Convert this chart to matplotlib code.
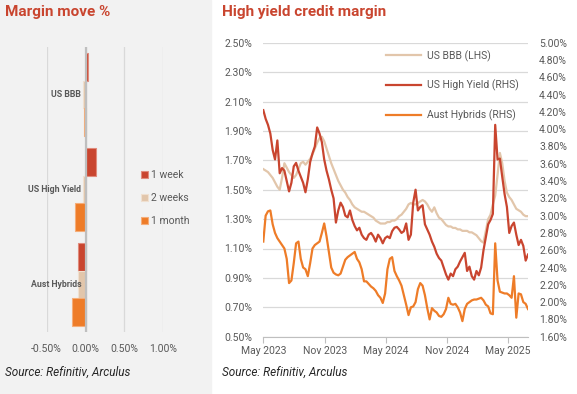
import numpy as np
import pandas as pd
import matplotlib
matplotlib.use('Agg')
from matplotlib import pyplot as plt
import matplotlib.dates as mdates
from matplotlib.ticker import FuncFormatter
from matplotlib.patches import Patch, Rectangle

plt.rcParams['font.family'] = ['Roboto', 'DejaVu Sans']

# --- left panel: margin move (%)
categories = ['US BBB', 'US High Yield', 'Aust Hybrids']
periods = ['1 week', '2 weeks', '1 month']
move_1w = [0.03, 0.14, -0.095]
move_2w = [-0.03, -0.03, -0.095]
move_1m = [-0.015, -0.13, -0.18]

# --- right panel: weekly margins from May 2023
week_start = '2023-05-01'
us_bbb = [1.64, 1.63, 1.62, 1.60, 1.58, 1.55, 1.52, 1.50, 1.58, 1.68,
          1.65, 1.62, 1.60, 1.58, 1.60, 1.64, 1.68, 1.69, 1.67, 1.69,
          1.71, 1.74, 1.78, 1.82, 1.85, 1.86, 1.83, 1.78, 1.73, 1.68,
          1.64, 1.60, 1.56, 1.53, 1.50, 1.48, 1.45, 1.43, 1.40, 1.38,
          1.37, 1.36, 1.35, 1.35, 1.34, 1.33, 1.32, 1.31, 1.29, 1.28,
          1.27, 1.27, 1.27, 1.28, 1.28, 1.29, 1.29, 1.30, 1.32, 1.33,
          1.35, 1.37, 1.40, 1.41, 1.40, 1.40, 1.41, 1.42, 1.43, 1.42,
          1.40, 1.37, 1.35, 1.38, 1.34, 1.31, 1.30, 1.28, 1.26, 1.25,
          1.25, 1.24, 1.24, 1.23, 1.23, 1.22, 1.22, 1.22, 1.21, 1.21,
          1.20, 1.19, 1.17, 1.15, 1.14, 1.22, 1.30, 1.33, 1.40, 1.46,
          1.60, 1.75, 1.68, 1.56, 1.48, 1.45, 1.43, 1.40, 1.37, 1.36,
          1.35, 1.33, 1.32, 1.32]
us_high_yield = [4.22, 4.12, 4.05, 3.95, 3.76, 3.65, 3.87, 3.49, 3.55, 3.52,
                 3.40, 3.28, 3.38, 3.57, 3.61, 3.52, 3.45, 3.38, 3.27, 3.42,
                 3.62, 3.72, 3.80, 4.02, 3.95, 3.85, 3.65, 3.52, 3.42, 3.30,
                 3.20, 2.92, 3.06, 3.15, 3.10, 3.00, 2.98, 3.06, 2.95, 2.88,
                 2.83, 2.86, 2.78, 2.74, 2.72, 2.78, 2.80, 2.76, 2.70, 2.78,
                 2.74, 2.68, 2.74, 2.76, 2.74, 2.82, 2.86, 2.87, 2.84, 2.80,
                 2.82, 2.91, 2.72, 2.78, 3.15, 3.30, 3.06, 3.10, 3.12, 2.90,
                 2.84, 2.78, 2.70, 2.64, 2.56, 2.51, 2.48, 2.40, 2.32, 2.26,
                 2.33, 2.30, 2.38, 2.41, 2.47, 2.52, 2.57, 2.36, 2.41, 2.30,
                 2.26, 2.36, 2.31, 2.40, 2.60, 2.75, 2.90, 2.95, 3.02, 4.05,
                 3.65, 3.66, 3.45, 3.25, 3.10, 2.80, 2.88, 2.92, 2.78, 2.66,
                 2.72, 2.65, 2.48, 2.55]
aust_hybrids = [2.70, 3.00, 3.05, 3.06, 2.90, 2.80, 2.74, 2.70, 2.66, 2.62,
                2.50, 2.22, 2.25, 2.45, 2.68, 2.70, 2.50, 2.40, 2.38, 2.30,
                2.45, 2.62, 2.66, 2.68, 2.70, 2.80, 2.91, 2.76, 2.58, 2.40,
                2.34, 2.32, 2.31, 2.33, 2.41, 2.49, 2.52, 2.54, 2.56, 2.58,
                2.50, 2.46, 2.38, 2.24, 2.24, 2.21, 2.18, 2.16, 2.13, 2.08,
                2.05, 1.99, 2.10, 2.38, 2.50, 2.52, 2.36, 2.30, 2.25, 2.19,
                2.08, 1.97, 1.85, 1.94, 1.95, 2.00, 2.15, 2.22, 2.19, 2.08,
                1.93, 1.80, 1.93, 1.90, 1.88, 1.84, 1.83, 1.86, 1.92, 2.05,
                1.98, 1.97, 1.98, 1.94, 1.88, 1.78, 1.92, 1.98, 2.00, 2.02,
                2.03, 2.03, 2.04, 2.05, 2.02, 1.97, 1.95, 1.87, 1.86, 2.68,
                2.25, 2.12, 2.11, 2.10, 2.10, 2.08, 2.05, 2.30, 1.82, 2.10,
                2.09, 2.00, 1.98, 1.92]

RED = '#c9452f'
BEIGE = '#e2c6ab'
ORANGE = '#ee7c28'
GREY_TXT = '#595959'
GRID = '#d9d9d9'

W, H = 577, 394


def fx(px):
    return px / W


def fy(py):
    return 1 - py / H


def pct(v, _):
    return '{0:.2f}%'.format(v)


def plot_margin_move(fig):
    ax = fig.add_axes([fx(46.7), fy(332), fx(116.6), 285 / H])
    ax.set_facecolor('none')
    y = np.arange(len(categories))
    h = 0.29
    ax.barh(y - h, move_1w, h, color=RED, edgecolor='#e08b7c', linewidth=0.8, zorder=2)
    ax.barh(y, move_2w, h, color=BEIGE, edgecolor='#f0e0d0', linewidth=0.8, zorder=2)
    ax.barh(y + h, move_1m, h, color=ORANGE, edgecolor='#f5ad78', linewidth=0.8, zorder=2)
    ax.axvline(0, color='#bfbfbf', lw=1.6, zorder=3)
    ax.set_xlim(-0.5, 1.0)
    ax.set_ylim(2.5, -0.5)
    ax.set_xticks([-0.5, 0, 0.5, 1.0])
    ax.xaxis.set_major_formatter(FuncFormatter(pct))
    ax.set_yticks([])
    ax.xaxis.grid(True, color=GRID, lw=0.9)
    ax.set_axisbelow(True)
    for s in ax.spines.values():
        s.set_visible(False)
    ax.tick_params(axis='x', length=0, pad=9, labelsize=7.5, labelcolor=GREY_TXT)
    for i, name in enumerate(categories):
        ax.text(-0.055, i, name, ha='right', va='center', fontsize=6.3,
                fontweight='bold', color=GREY_TXT, zorder=5)

    handles = [Patch(facecolor=c, edgecolor=e, linewidth=0.8)
               for c, e in [(RED, '#e08b7c'), (BEIGE, '#f0e0d0'), (ORANGE, '#f5ad78')]]
    fig.legend(handles, periods, loc='center left', bbox_to_anchor=(fx(141), fy(198)),
               frameon=False, fontsize=7.5, labelcolor=GREY_TXT, handlelength=0.7,
               handleheight=0.7, handletextpad=0.3, labelspacing=1.25,
               borderpad=0, borderaxespad=0)


def plot_credit_margin(fig):
    dates = pd.date_range(week_start, periods=len(us_bbb), freq='7D')
    ax = fig.add_axes([fx(263.3), fy(336.7), fx(528 - 263.3), 294 / H])
    ax.plot(dates, us_bbb, color=BEIGE, lw=1.6, label='US BBB (LHS)')
    ax.set_ylim(0.5, 2.5)
    ax.set_yticks(np.arange(0.5, 2.51, 0.2))
    ax.yaxis.set_major_formatter(FuncFormatter(pct))
    ax.yaxis.grid(True, color=GRID, lw=0.9)
    ax.set_axisbelow(True)
    ax.set_xlim(dates[0], dates[-1])
    ax.xaxis.set_major_locator(mdates.MonthLocator(bymonth=[5, 11]))
    ax.xaxis.set_major_formatter(mdates.DateFormatter('%b %Y'))
    for s in ['top', 'left', 'right']:
        ax.spines[s].set_visible(False)
    ax.spines['bottom'].set_color('#bfbfbf')
    ax.tick_params(axis='y', length=0, pad=8, labelsize=7.5, labelcolor=GREY_TXT)
    ax.tick_params(axis='x', length=4, color='#bfbfbf', pad=3, labelsize=7.5,
                   labelcolor=GREY_TXT)

    ax2 = ax.twinx()
    ax2.plot(dates, us_high_yield, color=RED, lw=1.6, label='US High Yield (RHS)')
    ax2.plot(dates, aust_hybrids, color=ORANGE, lw=1.6, label='Aust Hybrids (RHS)')
    ax2.set_ylim(1.6, 5.0)
    ax2.set_yticks(np.arange(1.6, 5.01, 0.2))
    ax2.yaxis.set_major_formatter(FuncFormatter(pct))
    for s in ax2.spines.values():
        s.set_visible(False)
    ax2.tick_params(axis='y', length=0, pad=8, labelsize=7.5, labelcolor=GREY_TXT)

    h1, l1 = ax.get_legend_handles_labels()
    h2, l2 = ax2.get_legend_handles_labels()
    ax2.legend(h1 + h2, l1 + l2, loc='upper left', bbox_to_anchor=(fx(386), fy(50)),
               bbox_transform=fig.transFigure, frameon=False, fontsize=7.5,
               labelcolor=GREY_TXT, handlelength=3.4, handletextpad=0.5,
               labelspacing=1.75, borderpad=0, borderaxespad=0)


if __name__ == "__main__":
    fig = plt.figure(figsize=(W / 100, H / 100), dpi=100)
    fig.patch.set_facecolor('white')
    fig.patches.append(Rectangle((0, 0), fx(211), 1, transform=fig.transFigure,
                                 color='#f2f2f2', zorder=-1))

    plot_margin_move(fig)
    plot_credit_margin(fig)

    fig.text(fx(5), fy(12), 'Margin move %', fontsize=11, fontweight='bold',
             color=RED, va='center')
    fig.text(fx(222), fy(12), 'High yield credit margin', fontsize=11,
             fontweight='bold', color=RED, va='center')
    fig.text(fx(5), fy(372), 'Source: Refinitiv, Arculus', fontsize=8.5,
             style='italic', color='#262626', va='center')
    fig.text(fx(222), fy(372), 'Source: Refinitiv, Arculus', fontsize=8.5,
             style='italic', color='#262626', va='center')

    fig.savefig('out.png', dpi=100)
